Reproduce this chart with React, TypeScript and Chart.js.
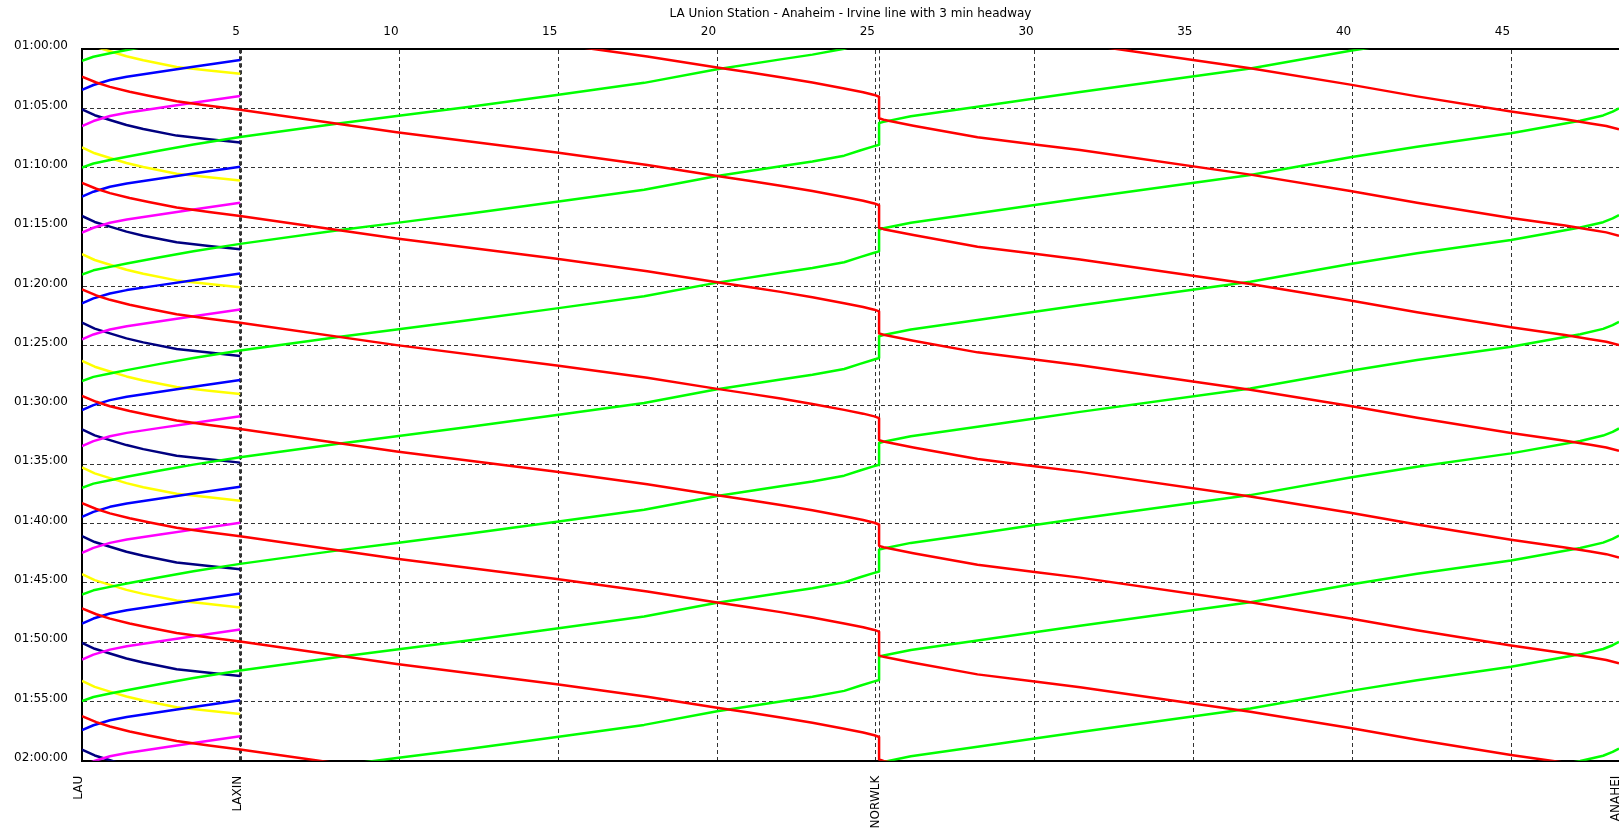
import React, { useEffect, useRef } from 'react';
import { Chart, registerables } from 'chart.js';

Chart.register(...registerables);

const TITLE = 'LA Union Station - Anaheim - Irvine line with 3 min headway';

// Stations along the line (km from LAU)
const stationNames = ['LAU', 'LAXIN', 'NORWLK', 'ANAHEI'];
const stationKm = [0, 5, 25.1, 48.4];

// Distance ticks on the top axis (km)
const distanceTicks = [5, 10, 15, 20, 25, 30, 35, 40, 45];

// Time ticks (minutes after midnight) and their labels
const timeTicks = [60, 65, 70, 75, 80, 85, 90, 95, 100, 105, 110, 115, 120];
const timeLabels = [
  '01:00:00', '01:05:00', '01:10:00', '01:15:00', '01:20:00', '01:25:00', '01:30:00',
  '01:35:00', '01:40:00', '01:45:00', '01:50:00', '01:55:00', '02:00:00',
];

// Red trains LAU -> NORWLK: km, and minutes relative to the NORWLK arrival
const redInKm = [0, 0.45, 0.88, 1.5, 2.1, 2.98, 4.0, 4.98, 9.91, 14.95, 17.8, 20.0, 21.0, 22.0, 23.0, 24.0, 24.6, 24.95, 25.1];
const redInMin = [-10.85, -10.35, -9.98, -9.57, -9.23, -8.77, -8.39, -8.05, -6.16, -4.45, -3.4, -2.47, -2.07, -1.65, -1.2, -0.7, -0.38, -0.15, 0];
// Red trains NORWLK -> ANAHEI: km, and minutes after the NORWLK departure
const redOutKm = [25.1, 25.24, 26.18, 28.2, 30.0, 31.43, 36.79, 39.94, 42.04, 45.0, 46.7, 47.5, 48.0, 48.4];
const redOutMin = [0, 0.12, 0.62, 1.6, 2.2, 2.68, 4.75, 6.13, 7.12, 8.4, 9.05, 9.4, 9.62, 9.9];
// Red trains at NORWLK (minutes after midnight)
const redArrNorwalk = [55.0, 64.0, 73.15, 82.11, 91.11, 100.08, 109.12, 118.0, 127.1];
const redDepNorwalk = [56.85, 65.82, 75.05, 83.96, 92.96, 101.88, 111.12, 119.9, 128.95];

// Green trains ANAHEI -> NORWLK: km, and minutes relative to the NORWLK arrival
const greenInKm = [48.4, 48.2, 47.9, 47.18, 45.0, 42.04, 39.94, 36.79, 31.43, 30.0, 28.2, 26.1, 25.24, 25.1];
const greenInMin = [-10.22, -9.94, -9.62, -9.17, -8.12, -6.99, -6.09, -4.6, -2.62, -2.07, -1.37, -0.57, -0.1, 0];
// Green trains NORWLK -> LAU: km, and minutes after the NORWLK departure
const greenOutKm = [25.1, 24.92, 24.5, 24.0, 23.0, 22.0, 20.0, 17.7, 14.95, 12.22, 9.91, 8.13, 4.98, 3.51, 2.46, 1.41, 0.88, 0.36, 0];
const greenOutMin = [0, 0.14, 0.49, 0.92, 1.41, 1.81, 2.64, 3.79, 4.81, 5.8, 6.59, 7.2, 8.36, 8.99, 9.49, 10.02, 10.3, 10.59, 10.94];
// Green trains at NORWLK (minutes after midnight)
const greenArrNorwalk = [48.2, 57.2, 66.22, 75.2, 84.2, 93.2, 102.2, 111.23, 120.2, 129.2];
const greenDepNorwalk = [50.04, 59.04, 68.05, 77.04, 86.04, 95.04, 104.04, 113.19, 122.04, 131.04];

// Local trains LAU -> LAXIN (yellow, navy): km and minutes after leaving LAU
const localDownKm = [0, 0.4, 0.88, 1.4, 1.93, 2.98, 4.0, 4.98];
const localDownMin = [0, 0.5, 0.9, 1.32, 1.66, 2.22, 2.52, 2.8];
// Local trains LAXIN -> LAU (blue, magenta): km and minutes after leaving LAXIN
const localUpKm = [4.98, 3.51, 2.46, 1.41, 0.88, 0.36, 0];
const localUpMin = [0, 0.57, 0.99, 1.41, 1.69, 2.11, 2.53];

// Local departures (minutes after midnight)
const yellowDepartures = [59.27, 68.27, 77.27, 86.27, 95.27, 104.27, 113.27];
const navyDepartures = [65.06, 74.06, 83.06, 92.06, 101.06, 110.06, 119.06];
const blueDepartures = [60.9, 69.9, 78.9, 87.9, 96.9, 105.9, 114.9];
const magentaDepartures = [63.94, 72.94, 81.94, 90.94, 99.94, 108.94, 117.94];

function runPoints(t: number, km: number[], min: number[]) {
  return km.map((k, i) => ({ x: k, y: t + min[i] }));
}

export default function App() {
  const ref = useRef<HTMLCanvasElement>(null);

  useEffect(() => {
    const canvas = ref.current;
    if (!canvas) return;
    Chart.defaults.font.family = "'DejaVu Sans', sans-serif";
    Chart.defaults.font.size = 12;

    const line = (color: string, data: any[]) => ({
      data,
      borderColor: color,
      backgroundColor: color,
      borderWidth: 2.5,
      pointRadius: 0,
      fill: false,
      tension: 0,
      clip: 0,
      borderJoinStyle: 'round',
      xAxisID: 'x',
      yAxisID: 'y',
    });

    const datasets: any[] = [];
    redArrNorwalk.forEach((arr, i) => {
      datasets.push(
        line('#FF0000', [
          ...runPoints(arr, redInKm, redInMin),
          ...runPoints(redDepNorwalk[i], redOutKm, redOutMin),
        ])
      );
    });
    greenArrNorwalk.forEach((arr, i) => {
      datasets.push(
        line('#00FF00', [
          ...runPoints(arr, greenInKm, greenInMin),
          ...runPoints(greenDepNorwalk[i], greenOutKm, greenOutMin),
        ])
      );
    });
    magentaDepartures.forEach((d) => datasets.push(line('#FF00FF', runPoints(d, localUpKm, localUpMin))));
    blueDepartures.forEach((d) => datasets.push(line('#0000FF', runPoints(d, localUpKm, localUpMin))));
    navyDepartures.forEach((d) => datasets.push(line('#000080', runPoints(d, localDownKm, localDownMin))));
    yellowDepartures.forEach((d) => datasets.push(line('#FFFF00', runPoints(d, localDownKm, localDownMin))));

    const gridColor = '#333333';
    const noSidePadding = (s: any) => {
      s.paddingLeft = 0;
      s.paddingRight = 0;
    };

    const chart = new Chart(canvas, {
      type: 'line',
      data: { datasets },
      options: {
        animation: false,
        responsive: false,
        maintainAspectRatio: false,
        events: [],
        layout: { padding: 0, autoPadding: false },
        plugins: {
          legend: { display: false },
          tooltip: { enabled: false },
          title: { display: false },
        },
        scales: {
          x: {
            type: 'linear',
            position: 'top',
            min: 0,
            max: 48.4,
            afterBuildTicks: (s: any) => {
              s.ticks = distanceTicks.map((v) => ({ value: v }));
            },
            afterFit: (s: any) => {
              s.height = 49.3;
              noSidePadding(s);
            },
            ticks: {
              autoSkip: false,
              minRotation: 0,
              maxRotation: 0,
              align: 'end',
              padding: 10,
              labelOffset: -1,
              color: '#000',
              font: { size: 12 },
              callback: (v: any) => String(v),
            },
            grid: { color: gridColor, lineWidth: 1, drawTicks: false },
            border: { display: true, color: '#000', width: 2, dash: [4, 3] },
            title: {
              display: true,
              text: TITLE,
              color: '#000',
              font: { size: 12 },
              padding: { top: 6.5, bottom: 0 },
            },
          },
          stations: {
            type: 'linear',
            position: 'bottom',
            min: 0,
            max: 48.4,
            afterBuildTicks: (s: any) => {
              s.ticks = stationKm.map((v) => ({ value: v }));
            },
            afterFit: (s: any) => {
              s.height = 70.3;
              noSidePadding(s);
            },
            ticks: {
              autoSkip: false,
              minRotation: 90,
              maxRotation: 90,
              padding: 15,
              labelOffset: -3,
              color: '#000',
              font: { size: 12 },
              callback: (_v: any, i: number) => stationNames[i],
            },
            grid: {
              color: gridColor,
              lineWidth: (c: any) => (c.tick && c.tick.value === 5 ? 3 : 1),
              drawTicks: false,
            },
            border: { display: true, color: '#000', width: 2, dash: [4, 3] },
          },
          y: {
            type: 'linear',
            position: 'left',
            reverse: true,
            min: 60,
            max: 120,
            afterBuildTicks: (s: any) => {
              s.ticks = timeTicks.map((v) => ({ value: v }));
            },
            afterFit: (s: any) => {
              s.width = 82;
              s.paddingTop = 0;
              s.paddingBottom = 0;
            },
            ticks: {
              autoSkip: false,
              padding: 14,
              labelOffset: -3,
              color: '#000',
              font: { size: 12 },
              callback: (_v: any, i: number) => timeLabels[i],
            },
            grid: { color: gridColor, lineWidth: 1, drawTicks: false },
            border: { display: true, color: '#000', width: 2, dash: [4, 3] },
          },
        },
      } as any,
    });

    return () => {
      chart.destroy();
    };
  }, []);

  return (
    <div style={{ position: 'fixed', left: 0, top: 0, width: 1619, height: 831, background: '#fff' }}>
      <canvas ref={ref} width={1619} height={831} style={{ display: 'block', width: 1619, height: 831 }} />
    </div>
  );
}
